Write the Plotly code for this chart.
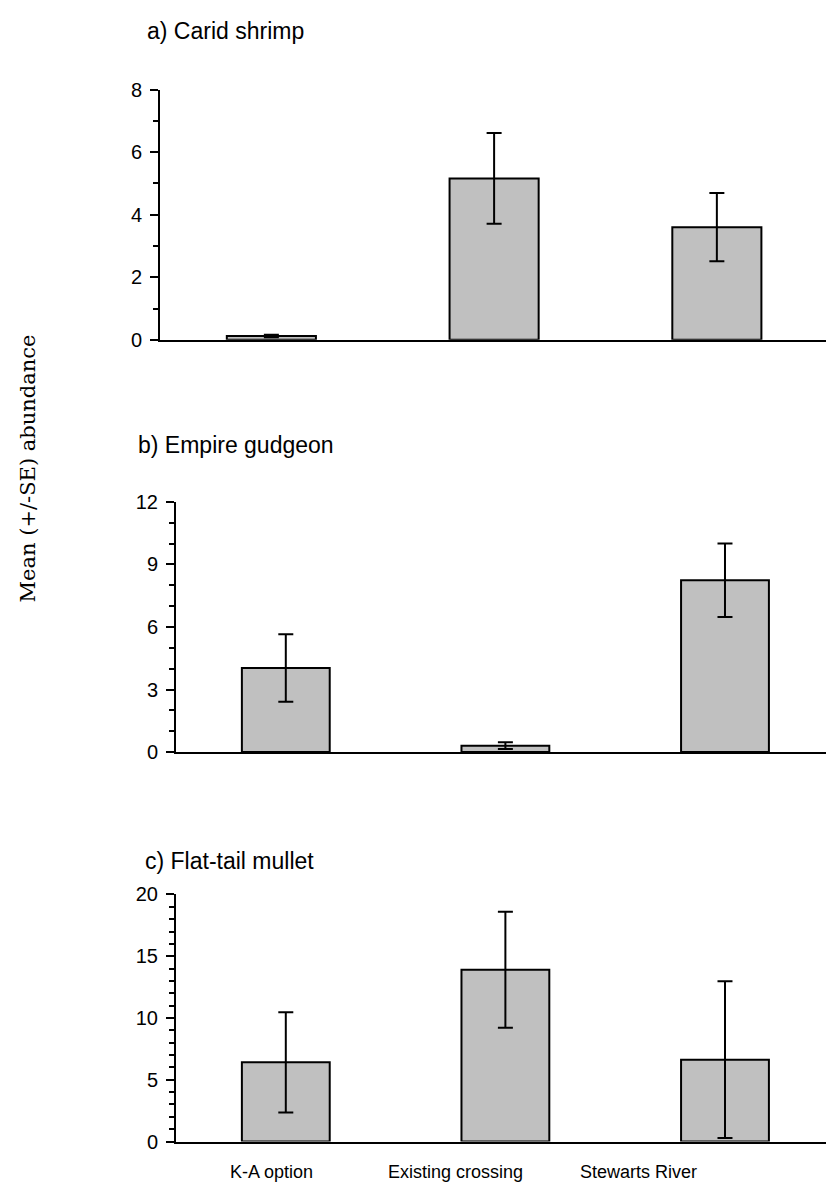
import plotly.graph_objects as go

W, H = 826, 1197

sites = ["K-A option", "Existing crossing", "Stewarts River"]

shrimp_mean = [0.12, 5.16, 3.60]
shrimp_se = [0.04, 1.45, 1.09]

gudgeon_mean = [4.03, 0.31, 8.24]
gudgeon_se = [1.62, 0.16, 1.76]

mullet_mean = [6.41, 13.91, 6.63]
mullet_se = [4.05, 4.70, 6.35]

panel_titles = ["a) Carid shrimp", "b) Empire gudgeon", "c) Flat-tail mullet"]
y_max = [8, 12, 20]
y_major = [2, 3, 5]
y_minor = [1, 1, 1]

y_title = "Mean (+/-SE) abundance"

SANS = "Liberation Sans, Arial, sans-serif"
SERIF = "DejaVu Serif, serif"

# pixel layout (top-origin)
panels = [
    dict(left=160, top=80, bottom=335, xr=[-0.5, 2.49]),
    dict(left=176, top=500, bottom=755, xr=[-0.5, 2.46]),
    dict(left=176, top=900, bottom=1151.7, xr=[-0.5, 2.46]),
]
title_pos = [(145, 20.5), (136, 442), (143, 865.5)]
label_x = [271, 455.5, 638.5]
label_y = 1183

means = [shrimp_mean, gudgeon_mean, mullet_mean]
ses = [shrimp_se, gudgeon_se, mullet_se]

fig = go.Figure()
layout = dict(
    width=W, height=H,
    margin=dict(l=0, r=0, t=0, b=0),
    paper_bgcolor="white", plot_bgcolor="white",
    showlegend=False,
    font=dict(family=SANS, size=18, color="black"),
    bargap=0.6,
)

annotations = []
for i, p in enumerate(panels):
    n = "" if i == 0 else str(i + 1)
    fig.add_trace(go.Bar(
        x=sites, y=means[i],
        width=0.4,
        marker=dict(color="#c0c0c0", line=dict(color="black", width=2)),
        error_y=dict(type="data", array=ses[i], visible=True,
                     color="black", thickness=2, width=7.5),
        xaxis="x" + n, yaxis="y" + n,
        hoverinfo="skip",
    ))
    layout["xaxis" + n] = dict(
        domain=[p["left"] / W, 1.0],
        range=p["xr"],
        type="category",
        showticklabels=False, ticks="",
        showline=True, linecolor="black", linewidth=2,
        showgrid=False, zeroline=False,
        anchor="y" + n, fixedrange=True,
    )
    layout["yaxis" + n] = dict(
        domain=[1 - p["bottom"] / H, 1 - p["top"] / H],
        range=[0, y_max[i]],
        dtick=y_major[i], tick0=0,
        ticks="outside", ticklen=8, tickwidth=2, tickcolor="black",
        minor=dict(dtick=y_minor[i], ticks="outside", ticklen=5,
                   tickwidth=2, tickcolor="black", showgrid=False),
        showline=True, linecolor="black", linewidth=2,
        showgrid=False, zeroline=False,
        ticklabelstandoff=4,
        tickfont=dict(family=SANS, size=20, color="black"),
        anchor="x" + n, fixedrange=True,
    )
    tx, ty = title_pos[i]
    annotations.append(dict(
        text=panel_titles[i], x=tx / W, y=1 - ty / H,
        xref="paper", yref="paper", xanchor="left", yanchor="middle",
        showarrow=False, font=dict(family=SANS, size=23, color="black"),
    ))

for lbl, lx in zip(sites, label_x):
    annotations.append(dict(
        text=lbl, x=lx / W, y=1 - label_y / H,
        xref="paper", yref="paper", xanchor="center", yanchor="middle",
        showarrow=False, font=dict(family=SANS, size=18, color="black"),
    ))

annotations.append(dict(
    text=y_title, x=28 / W, y=1 - 466 / H,
    xref="paper", yref="paper", xanchor="center", yanchor="middle",
    textangle=-90, showarrow=False,
    font=dict(family=SERIF, size=21, color="black"),
))

layout["annotations"] = annotations
fig.update_layout(**layout)
fig.write_html("out.html")
